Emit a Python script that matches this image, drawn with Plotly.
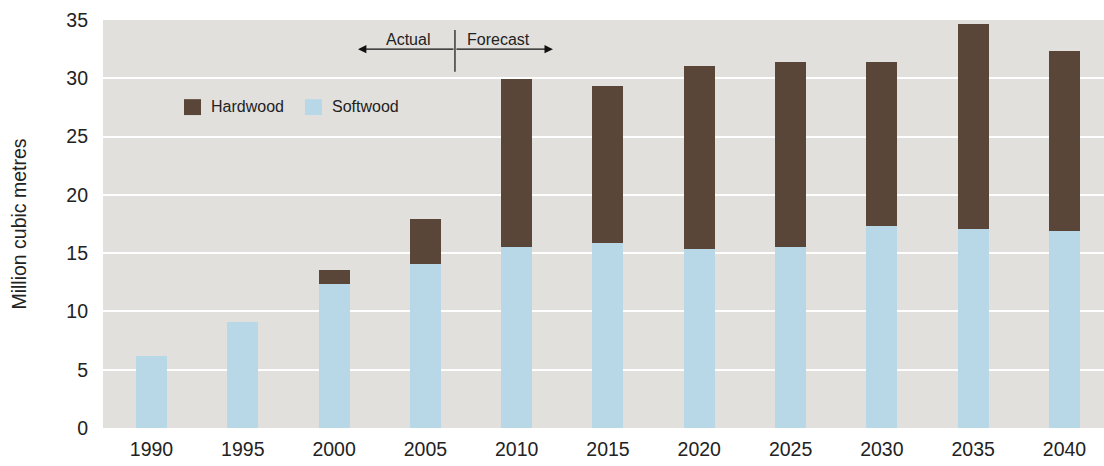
import plotly.graph_objects as go

years = ["1990", "1995", "2000", "2005", "2010", "2015", "2020", "2025", "2030", "2035", "2040"]
softwood = [6.2, 9.1, 12.35, 14.1, 15.5, 15.9, 15.35, 15.5, 17.3, 17.1, 16.9]
total = [6.2, 9.1, 13.55, 17.9, 29.9, 29.3, 31.05, 31.4, 31.4, 34.65, 32.3]
hardwood = [round(t - s, 2) for t, s in zip(total, softwood)]
y_ticks = [0, 5, 10, 15, 20, 25, 30, 35]

SOFT = "#b8d8e8"
HARD = "#5a4639"
BG = "#e2e0dc"
FONT = "Liberation Sans, Arial, sans-serif"
TXT = "#222222"
FS = 19.5

fig = go.Figure()
fig.add_trace(go.Bar(x=years, y=softwood, name="Softwood", marker_color=SOFT,
                     marker_line_width=0, width=0.34))
fig.add_trace(go.Bar(x=years, y=hardwood, name="Hardwood", marker_color=HARD,
                     marker_line_width=0, width=0.34))

fig.update_layout(
    barmode="stack",
    width=1104, height=466,
    margin=dict(l=103, r=0, t=20, b=38),
    paper_bgcolor="white",
    plot_bgcolor=BG,
    font=dict(family=FONT, size=FS, color=TXT),
    showlegend=False,
)
fig.update_xaxes(type="category", range=[-0.531, 10.433], showgrid=False,
                 tickfont=dict(size=FS, color=TXT), ticks="", ticklabelstandoff=7,
                 zeroline=False, showline=False)
fig.update_yaxes(range=[0, 35], tickvals=y_ticks, showgrid=True, gridcolor="white",
                 gridwidth=1.5, zeroline=False, showline=False,
                 tickfont=dict(size=FS, color=TXT), ticks="", ticklabelstandoff=14,
                 title=dict(text="Million cubic metres", font=dict(size=FS, color=TXT),
                            standoff=34))

# Legend drawn as swatches + labels (Hardwood first, as in the reference)
legend_items = [("Hardwood", HARD, 0.0809), ("Softwood", SOFT, 0.2018)]
for label, color, x0 in legend_items:
    fig.add_shape(type="rect", xref="paper", yref="paper", x0=x0, x1=x0 + 0.017,
                  y0=0.767, y1=0.806, fillcolor=color, line=dict(width=0))
    fig.add_annotation(xref="paper", yref="paper", x=x0 + 0.025, y=0.787,
                       xanchor="left", yanchor="middle", text=label, showarrow=False,
                       font=dict(size=16, color=TXT))

# Actual / Forecast divider
div_x = 3.324
fig.add_shape(type="line", x0=div_x, x1=div_x, y0=30.55, y1=34.15,
              xref="x", yref="y", line=dict(color="#111111", width=1.2))
for tip in (2.262, 4.397):
    fig.add_annotation(x=tip, y=32.5, ax=div_x, ay=32.5, xref="x", yref="y",
                       axref="x", ayref="y", text="", showarrow=True,
                       arrowhead=2, arrowsize=1.4, arrowwidth=1.2, arrowcolor="#111111")
fig.add_annotation(x=2.805, y=33.35, xref="x", yref="y", text="Actual", showarrow=False,
                   font=dict(size=16, color=TXT))
fig.add_annotation(x=3.80, y=33.35, xref="x", yref="y", text="Forecast", showarrow=False,
                   font=dict(size=16, color=TXT))

fig.write_html("out.html")
